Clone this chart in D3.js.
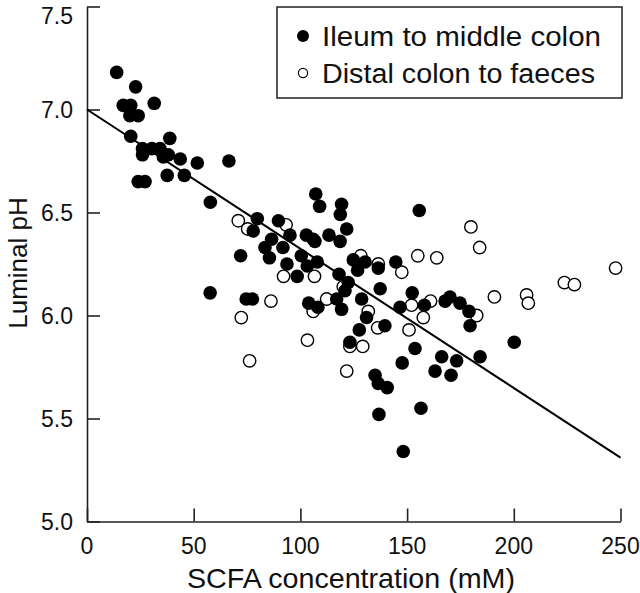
<!DOCTYPE html>
<html lang="en">
<head>
  <meta charset="UTF-8">
  <title>Luminal pH vs SCFA</title>
  <style>
    body { margin: 0; background: #fff; }
    text { font-family: 'Liberation Sans', Arial, sans-serif; fill: #111; }
  </style>
</head>
<body>
<svg id="svg" width="640" height="593"></svg>
<script src="https://cdn.jsdelivr.net/npm/d3@7"></script>
<script>
  // Ileum to middle colon (filled) : [SCFA mM, pH]
  const ileumX = [13.9, 22.8, 17.0, 20.5, 31.5, 20.1, 24.0, 20.5, 38.8, 26.0, 30.4, 34.2, 26.0, 35.8, 38.1, 43.7, 51.7, 66.5,
    24.0, 27.2, 37.6, 45.6, 57.8, 79.8, 77.9, 72.0, 83.4, 57.7, 74.6, 77.5, 89.7, 86.5, 91.8, 95.1, 85.5, 93.7, 98.5, 100.4,
    102.8, 106.0, 106.8, 107.2, 109.0, 119.3, 118.7, 155.7, 113.4, 121.7, 118.6, 107.9, 103.2, 124.8, 130.3, 126.8, 136.5,
    144.7, 118.1, 122.4, 120.9, 137.4, 128.7, 103.9, 108.2, 117.0, 119.3, 152.4, 146.7, 158.1, 131.0, 139.6, 127.6, 123.2,
    153.7, 147.7, 166.2, 135.0, 136.5, 140.7, 163.1, 170.6, 136.8, 156.5, 148.2, 167.8, 170.1, 174.8, 179.0, 179.5, 200.2,
    184.2, 173.2]
  const ileumY = [7.18, 7.11, 7.02, 7.02, 7.03, 6.97, 6.97, 6.87, 6.86, 6.81, 6.81, 6.81, 6.78, 6.77, 6.78, 6.76, 6.74, 6.75,
    6.65, 6.65, 6.68, 6.68, 6.55, 6.47, 6.41, 6.29, 6.33, 6.11, 6.08, 6.08, 6.46, 6.37, 6.33, 6.39, 6.28, 6.25, 6.19, 6.29,
    6.39, 6.37, 6.36, 6.59, 6.53, 6.54, 6.49, 6.51, 6.39, 6.42, 6.36, 6.26, 6.24, 6.27, 6.26, 6.22, 6.23,
    6.26, 6.20, 6.16, 6.12, 6.13, 6.08, 6.06, 6.04, 6.08, 6.03, 6.11, 6.04, 6.05, 5.99, 5.95, 5.93, 5.87,
    5.84, 5.77, 5.80, 5.71, 5.67, 5.65, 5.73, 5.71, 5.52, 5.55, 5.34, 6.07, 6.09, 6.06, 6.02, 5.95, 5.87,
    5.80, 5.78]

  // Distal colon to faeces (open)
  const distalX = [70.9, 75.3, 72.3, 76.2, 93.3, 128.3, 147.5, 155.0, 163.9, 136.5, 92.1, 106.6, 120.1, 112.3, 86.2, 106.0,
    131.8, 152.1, 161.0, 157.6, 136.2, 150.9, 103.3, 129.2, 123.2, 121.7, 179.9, 184.0, 190.9, 206.0, 206.8, 223.7, 228.4,
    247.7, 182.6]
  const distalY = [6.46, 6.42, 5.99, 5.78, 6.44, 6.29, 6.21, 6.29, 6.28, 6.25, 6.19, 6.19, 6.14, 6.08, 6.07, 6.02,
    6.02, 6.05, 6.07, 5.99, 5.94, 5.93, 5.88, 5.85, 5.85, 5.73, 6.43, 6.33, 6.09, 6.10, 6.06, 6.16, 6.15,
    6.23, 6.00]

  // regression line end points
  const fitX = [0, 250]
  const fitY = [7.0, 5.31]

  const xTicks = [0, 50, 100, 150, 200, 250]
  const yTicks = [5.0, 5.5, 6.0, 6.5, 7.0, 7.5]
  const legendLabels = ['Ileum to middle colon', 'Distal colon to faeces']

  const svg = d3.select('#svg')
  const xScale = d3.scaleLinear().domain([0, 250]).range([87, 620.5])
  const yScale = d3.scaleLinear().domain([5.0, 7.5]).range([521.5, 6.5])

  // axes
  svg.append('g')
    .attr('transform', `translate(0,${yScale(5.0)})`)
    .call(d3.axisTop(xScale).tickValues(xTicks).tickSize(13).tickSizeOuter(0).tickFormat(''))
  svg.append('g')
    .attr('transform', `translate(${xScale(0)},0)`)
    .call(d3.axisRight(yScale).tickValues(yTicks).tickSize(13).tickSizeOuter(0).tickFormat(''))
  svg.selectAll('.domain, .tick line').attr('stroke', '#222').attr('stroke-width', 1.6)

  svg.append('g').selectAll('text')
    .data(xTicks).enter().append('text')
    .attr('x', d => xScale(d))
    .attr('y', 554)
    .attr('text-anchor', 'middle')
    .style('font-size', '23px')
    .text(d => d)

  // top label sits lower so it is not clipped
  svg.append('g').selectAll('text')
    .data(yTicks).enter().append('text')
    .attr('x', 73)
    .attr('y', d => Math.max(yScale(d) + 8, 24))
    .attr('text-anchor', 'end')
    .style('font-size', '23px')
    .text(d => d.toFixed(1))

  svg.append('text')
    .attr('x', 351).attr('y', 588)
    .attr('text-anchor', 'middle')
    .attr('textLength', 328)
    .attr('lengthAdjust', 'spacingAndGlyphs')
    .style('font-size', '28px')
    .text('SCFA concentration (mM)')

  svg.append('text')
    .attr('transform', 'translate(27,263) rotate(-90)')
    .attr('text-anchor', 'middle')
    .style('font-size', '26px')
    .text('Luminal pH')

  // regression line
  svg.append('path')
    .attr('d', d3.line()(fitX.map((x, i) => [xScale(x), yScale(fitY[i])])))
    .attr('stroke', '#000')
    .attr('stroke-width', 2)
    .attr('fill', 'none')

  // points: distal first, ileum drawn on top
  svg.append('g').selectAll('circle')
    .data(d3.zip(distalX, distalY)).enter().append('circle')
    .attr('cx', d => xScale(d[0]))
    .attr('cy', d => yScale(d[1]))
    .attr('r', 6.2)
    .attr('fill', '#fff')
    .attr('stroke', '#000')
    .attr('stroke-width', 1.4)

  svg.append('g').selectAll('circle')
    .data(d3.zip(ileumX, ileumY)).enter().append('circle')
    .attr('cx', d => xScale(d[0]))
    .attr('cy', d => yScale(d[1]))
    .attr('r', 6.8)
    .attr('fill', '#000')

  // legend
  const legend = svg.append('g')
  legend.append('rect')
    .attr('x', 277).attr('y', 7).attr('width', 345).attr('height', 91)
    .attr('fill', '#fff').attr('stroke', '#222').attr('stroke-width', 1.5)
  legend.append('circle').attr('cx', 303).attr('cy', 36).attr('r', 6).attr('fill', '#000')
  legend.append('circle').attr('cx', 303).attr('cy', 73).attr('r', 4.6)
    .attr('fill', '#fff').attr('stroke', '#000').attr('stroke-width', 1.2)
  const legendWidths = [279, 273]
  legend.selectAll('text.lab')
    .data(legendLabels).enter().append('text')
    .attr('class', 'lab')
    .attr('x', 322)
    .attr('y', (d, i) => 46 + i * 37)
    .attr('textLength', (d, i) => legendWidths[i])
    .attr('lengthAdjust', 'spacingAndGlyphs')
    .style('font-size', '27px')
    .text(d => d)
</script>
</body>
</html>
